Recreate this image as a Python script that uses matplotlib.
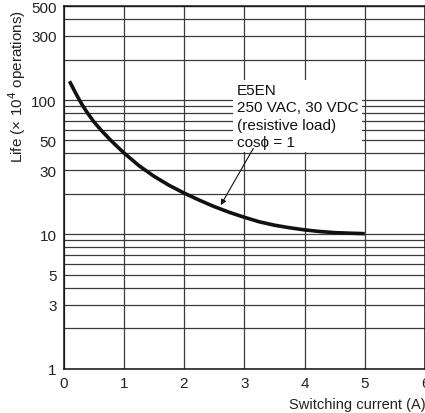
import numpy as np
import matplotlib.pyplot as plt
from matplotlib.ticker import FixedLocator, NullFormatter

plt.rcParams['font.family'] = ['Liberation Sans', 'DejaVu Sans']

# switching current (A) vs life (x10^4 operations)
current = [0.1, 0.18, 0.26, 0.32, 0.395, 0.5, 0.63, 0.79, 1.0, 1.25, 1.5,
           1.75, 2.0, 2.25, 2.5, 2.75, 3.0, 3.25, 3.5, 3.75, 4.0, 4.25, 4.5,
           4.75, 5.0]
life = [138, 117.5, 100.7, 90.6, 80.4, 69.2, 59.2, 49.8, 40.5, 32.5, 27.1,
        23.2, 20.3, 18.0, 16.1, 14.6, 13.4, 12.4, 11.7, 11.2, 10.8, 10.5, 10.3,
        10.2, 10.12]

xticks = [0, 1, 2, 3, 4, 5, 6]
yticks = [1, 3, 5, 10, 30, 50, 100, 300, 500]
ygrid = [m * 10 ** d for d in range(3) for m in range(1, 10)] + [500]

note = 'E5EN\n250 VAC, 30 VDC\n(resistive load)\ncos\u03d5 = 1'
arrow_tip = (2.61, 16.5)
arrow_tail = (3.15, 43.6)
note_pos = (2.88, 133)

fig = plt.figure(figsize=(4.25, 4.14), dpi=100)
ax = fig.add_axes([63.5 / 425, 1 - 369.7 / 414, 1 - 63.5 / 425, 362.6 / 414])

ax.set_yscale('log')
ax.set_xlim(0, 6)
ax.set_ylim(1, 500)

ax.yaxis.set_major_locator(FixedLocator(yticks))
ax.yaxis.set_minor_locator(FixedLocator([]))
ax.yaxis.set_minor_formatter(NullFormatter())
ax.set_yticklabels([str(v) for v in yticks])
ax.set_xticks(xticks)

for v in ygrid:
    ax.axhline(v, color='#3a3a3a', lw=0.9, zorder=1)
for v in xticks:
    ax.axvline(v, color='#3a3a3a', lw=0.9, zorder=1)

ax.plot(current, life, color='#111111', lw=2.6, solid_capstyle='butt',
        solid_joinstyle='round', zorder=3)

ax.text(note_pos[0], note_pos[1], note, fontsize=11, va='top', ha='left',
        linespacing=1.28, zorder=5, color='#111111',
        bbox=dict(boxstyle='square,pad=0.25', fc='white', ec='none'))
ax.annotate('', xy=arrow_tip, xytext=arrow_tail, zorder=6,
            arrowprops=dict(arrowstyle='-|>', lw=0.8, color='#111111',
                            mutation_scale=8, shrinkA=0, shrinkB=0))

ax.tick_params(length=0, labelsize=11, pad=5, colors='#222222')
for s in ax.spines.values():
    s.set_color('#111111')
    s.set_linewidth(1.1)

fig.text(17 / 425, 1 - 86 / 414, 'Life (\u00d7 10$^4$ operations)', rotation=90,
         ha='center', va='center', fontsize=11, color='#222222')
fig.text(289 / 425, 1 - 405 / 414, 'Switching current (A)', ha='left',
         va='center', fontsize=10.5, color='#222222')

fig.savefig('out.png', dpi=100)
